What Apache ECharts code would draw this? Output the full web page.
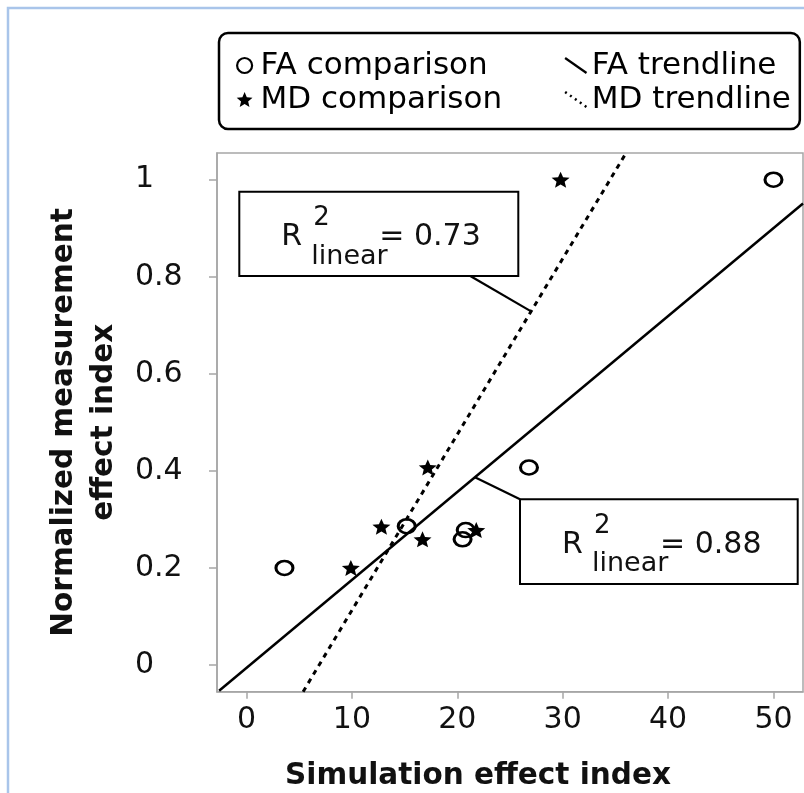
<!DOCTYPE html>
<html><head><meta charset="utf-8">
<script src="https://cdn.jsdelivr.net/npm/echarts@6/dist/echarts.min.js"></script>
<style>html,body{margin:0;padding:0;background:#fff}#c{width:804px;height:793px}</style>
</head><body><div id="c"></div>
<script>
// ---- data ----
const faX = [3.6, 15.2, 20.8, 20.5, 26.8, 50.0];
const faY = [0.200, 0.286, 0.278, 0.259, 0.407, 1.000];
const mdX = [9.9, 12.8, 16.7, 17.2, 21.8, 29.8];
const mdY = [0.200, 0.285, 0.259, 0.407, 0.278, 1.000];
const faTrendX = [-2.6, 52.8];
const faTrendY = [-0.053, 0.951];
const mdTrendX = [5.37, 35.9];
const mdTrendY = [-0.055, 1.051];
const xTicks = [0, 10, 20, 30, 40, 50];
const yTicks = [0, 0.2, 0.4, 0.6, 0.8, 1];
const seriesNames = ['FA comparison', 'FA trendline', 'MD comparison', 'MD trendline'];
const r2Values = ['0.73', '0.88'];
const xTitle = 'Simulation effect index';
const yTitle = 'Normalized measurement\neffect index';

const FONT = 'DejaVu Sans';
const STAR = 'path://M50,0L63.23,31.8L97.55,34.55L71.4,56.95L79.39,90.45L50,72.5L20.61,90.45L28.6,56.95L2.45,34.55L36.77,31.8Z';
const SLASH = 'path://M0,0L10,7';

const chart = echarts.init(document.getElementById('c'), null, {renderer: 'canvas'});
const pairs = (xs, ys) => xs.map((x, i) => [x, ys[i]]);

chart.setOption({
  animation: false,
  backgroundColor: '#fff',
  grid: {left: 217, right: 1, top: 153, bottom: 101.3, show: true, borderColor: '#a6a6a6', borderWidth: 1.5, backgroundColor: '#fff', containLabel: false, outerBoundsMode: 'none'},
  legend: {
    left: 219, top: 33, orient: 'horizontal', width: 600,
    padding: [17, 8, 14, 17], itemGap: 3, itemWidth: 22, itemHeight: 15,
    borderColor: '#000', borderWidth: 2.5, borderRadius: 9, backgroundColor: '#fff',
    selectedMode: false,
    textStyle: {fontSize: 31, fontFamily: FONT, color: '#000', lineHeight: 24, width: 200},
    data: [
      {name: seriesNames[0], icon: 'circle', itemStyle: {color: '#fff', borderColor: '#000', borderWidth: 2.2}, textStyle: {width: 299, lineHeight: 24}},
      {name: seriesNames[1], icon: SLASH, itemStyle: {color: 'none', borderColor: '#000', borderWidth: 2.2}, textStyle: {width: 200, lineHeight: 24}},
      {name: seriesNames[2], icon: STAR, itemStyle: {color: '#000', borderWidth: 0}, textStyle: {width: 299, lineHeight: 24}},
      {name: seriesNames[3], icon: SLASH, itemStyle: {color: 'none', borderColor: '#000', borderWidth: 2.5, borderType: [2, 4]}, textStyle: {width: 200, lineHeight: 24}}
    ]
  },
  xAxis: {
    type: 'value', min: -2.8, max: 52.8,
    axisLine: {show: true, onZero: false, lineStyle: {color: '#a6a6a6', width: 1.5}},
    axisTick: {show: true, customValues: xTicks, length: 7, lineStyle: {color: '#a6a6a6', width: 1.5}},
    axisLabel: {customValues: xTicks, fontSize: 30, lineHeight: 30, fontFamily: FONT, color: '#111', margin: 14},
    splitLine: {show: false},
    name: xTitle, nameLocation: 'middle', nameGap: 67,
    nameTextStyle: {fontSize: 29.5, lineHeight: 36, fontWeight: 'bold', fontFamily: FONT, color: '#111', padding: [0, 64, 0, 0]}
  },
  yAxis: {
    type: 'value', min: -0.055, max: 1.055,
    axisLine: {show: true, onZero: false, lineStyle: {color: '#a6a6a6', width: 1.5}},
    axisTick: {show: true, customValues: yTicks, length: 8, lineStyle: {color: '#a6a6a6', width: 1.5}},
    axisLabel: {customValues: yTicks, fontSize: 30, fontFamily: FONT, color: '#111', margin: 82, align: 'left'},
    splitLine: {show: false},
    name: yTitle, nameLocation: 'middle', nameGap: 93, nameRotate: 90,
    nameTextStyle: {fontSize: 29.5, lineHeight: 40, fontWeight: 'bold', fontFamily: FONT, color: '#111'}
  },
  series: [
    {name: seriesNames[1], type: 'line', data: pairs(faTrendX, faTrendY), symbol: 'none', showSymbol: false,
     lineStyle: {color: '#000', width: 2.5}, itemStyle: {color: '#000'}, z: 2, silent: true},
    {name: seriesNames[3], type: 'line', data: pairs(mdTrendX, mdTrendY), symbol: 'none', showSymbol: false,
     lineStyle: {color: '#000', width: 3, type: [5, 5]}, itemStyle: {color: '#000'}, z: 2, silent: true},
    {name: seriesNames[0], type: 'scatter', data: pairs(faX, faY), symbol: 'circle', symbolSize: [17, 14],
     itemStyle: {color: 'rgba(255,255,255,0)', borderColor: '#000', borderWidth: 2.8, opacity: 1}, z: 4},
    {name: seriesNames[2], type: 'scatter', data: pairs(mdX, mdY), symbol: STAR, symbolSize: [18, 16], symbolKeepAspect: false,
     itemStyle: {color: '#000', opacity: 1}, z: 4}
  ]
});

// ---- annotation boxes (R² labels) with leader lines ----
function onLine(xs, ys, x) { const t = (x - xs[0]) / (xs[1] - xs[0]); return [x, ys[0] + t * (ys[1] - ys[0])]; }
const a1 = chart.convertToPixel({gridIndex: 0}, onLine(mdTrendX, mdTrendY, 27.0));
const a2 = chart.convertToPixel({gridIndex: 0}, onLine(faTrendX, faTrendY, 21.67));

function r2Box(bx, by, w, h, val) {
  return [
    {type: 'rect', shape: {x: bx, y: by, width: w, height: h}, style: {fill: '#fff', stroke: '#000', lineWidth: 2}, z: 10},
    {type: 'text', x: bx + 42, y: by + 45.5, style: {text: 'R', fontSize: 30, fontFamily: FONT, fill: '#111', verticalAlign: 'middle'}, z: 11},
    {type: 'text', x: bx + 74, y: by + 27, style: {text: '2', fontSize: 26, fontFamily: FONT, fill: '#111', verticalAlign: 'middle'}, z: 11},
    {type: 'text', x: bx + 72, y: by + 65, style: {text: 'linear', fontSize: 27, fontFamily: FONT, fill: '#111', verticalAlign: 'middle'}, z: 11},
    {type: 'text', x: bx + 140, y: by + 45.5, style: {text: '= ' + val, fontSize: 30, fontFamily: FONT, fill: '#111', verticalAlign: 'middle'}, z: 11}
  ];
}
const b1 = {x: 239.3, y: 191.7, w: 279, h: 84.3};
const b2 = {x: 520, y: 499.3, w: 277.7, h: 84.7};
chart.setOption({
  graphic: [
    {type: 'rect', shape: {x: 8, y: 8, width: 900, height: 900}, style: {fill: 'none', stroke: '#a9c5ea', lineWidth: 2.5}, z: 0, silent: true},
    {type: 'line', shape: {x1: b1.x + 231, y1: b1.y + b1.h, x2: a1[0], y2: a1[1]}, style: {stroke: '#000', lineWidth: 2.2}, z: 9},
    {type: 'line', shape: {x1: b2.x, y1: b2.y, x2: a2[0], y2: a2[1]}, style: {stroke: '#000', lineWidth: 2.2}, z: 9},
    ...r2Box(b1.x, b1.y, b1.w, b1.h, r2Values[0]),
    ...r2Box(b2.x, b2.y, b2.w, b2.h, r2Values[1])
  ]
});
</script></body></html>
